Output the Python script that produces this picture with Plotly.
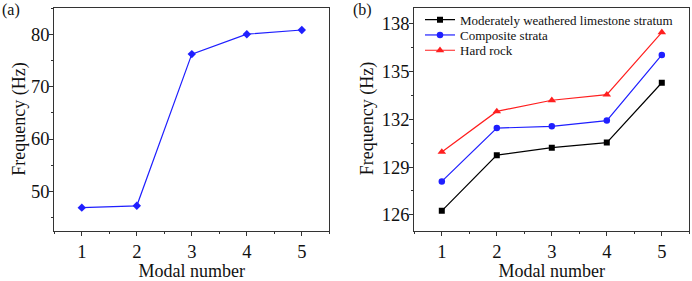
import plotly.graph_objects as go

modes = [1, 2, 3, 4, 5]
freq_a = [46.9, 47.25, 76.2, 80.0, 80.8]

series_names = ["Moderately weathered limestone stratum", "Composite strata", "Hard rock"]
freq_limestone = [126.25, 129.75, 130.22, 130.54, 134.3]
freq_composite = [128.1, 131.45, 131.56, 131.92, 136.05]
freq_hard = [129.95, 132.5, 133.2, 133.55, 137.47]

FONT = "Liberation Serif, Times New Roman, serif"
W, H = 692, 281

def px(x):
    return x / W

def py(y):
    return 1 - y / H

fig = go.Figure()

fig.add_trace(go.Scatter(
    x=modes, y=freq_a, mode="lines+markers", xaxis="x", yaxis="y",
    line=dict(color="#1f1fff", width=1.2),
    marker=dict(symbol="diamond", size=6.5, color="#1f1fff"),
    showlegend=False))

styles = [("#000000", "square", 6), ("#1f1fff", "circle", 6.5), ("#ff1f1f", "triangle-up", 7.5)]
legend_ids = ["legend", "legend2", "legend3"]
for name, vals, (c, sym, sz), lg in zip(series_names, [freq_limestone, freq_composite, freq_hard], styles, legend_ids):
    fig.add_trace(go.Scatter(
        x=modes, y=vals, mode="lines+markers", name=name, xaxis="x2", yaxis="y2", legend=lg,
        line=dict(color=c, width=1.2),
        marker=dict(symbol=sym, size=sz, color=c)))

axis_common = dict(
    showgrid=False, zeroline=False, showline=True, mirror=True, automargin=False,
    linecolor="#333333", linewidth=1.2, ticks="outside", ticklen=4, tickwidth=1,
    tickcolor="#333333", tickfont=dict(family=FONT, size=18.5, color="#111111"),
)
xaxis_common = dict(axis_common, range=[0.5, 5.5], tickvals=modes, ticktext=[str(m) for m in modes],
                    minor=dict(ticks="outside", ticklen=2.5, dtick=0.5, tick0=0.5, tickcolor="#333333"),
                    title=dict(text="Modal number", font=dict(family=FONT, size=18, color="#111111"), standoff=6))

legend_common = dict(xanchor="left", yanchor="middle", bgcolor="rgba(0,0,0,0)", borderwidth=0,
                     font=dict(family=FONT, size=13, color="#111111"))

fig.update_layout(
    width=W, height=H,
    margin=dict(l=0, r=0, t=0, b=0),
    paper_bgcolor="white", plot_bgcolor="white",
    xaxis=dict(xaxis_common, domain=[px(54.3), px(329.3)], anchor="y"),
    yaxis=dict(axis_common, domain=[py(230.7), py(8)], anchor="x", range=[42.5, 85],
               tickvals=[50, 60, 70, 80], ticklabelstandoff=-4,
               minor=dict(ticks="outside", ticklen=2.5, tickvals=[45, 55, 65, 75, 85], tickcolor="#333333")),
    xaxis2=dict(xaxis_common, domain=[px(414.3), px(689.3)], anchor="y2"),
    yaxis2=dict(axis_common, domain=[py(230.7), py(8)], anchor="x2", range=[125, 139],
                tickvals=[126, 129, 132, 135, 138], ticklabelstandoff=-4,
                minor=dict(ticks="outside", ticklen=2.5, tickvals=[127.5, 130.5, 133.5, 136.5], tickcolor="#333333")),
    legend=dict(legend_common, x=px(420), y=py(19.7)),
    legend2=dict(legend_common, x=px(420), y=py(35)),
    legend3=dict(legend_common, x=px(420), y=py(50.3)),
    annotations=[
        dict(text="Frequency (Hz)", x=px(19.5), y=py(119.3), xref="paper", yref="paper", textangle=-90,
             xanchor="center", yanchor="middle", showarrow=False,
             font=dict(family=FONT, size=18, color="#111111")),
        dict(text="Frequency (Hz)", x=px(367), y=py(119.3), xref="paper", yref="paper", textangle=-90,
             xanchor="center", yanchor="middle", showarrow=False,
             font=dict(family=FONT, size=18, color="#111111")),
        dict(text="(a)", x=px(0), y=py(10), xref="paper", yref="paper", xanchor="left", yanchor="middle",
             showarrow=False, font=dict(family=FONT, size=16, color="#111111")),
        dict(text="(b)", x=px(351), y=py(10), xref="paper", yref="paper", xanchor="left", yanchor="middle",
             showarrow=False, font=dict(family=FONT, size=16, color="#111111")),
    ],
)

fig.write_html("out.html", config=dict(displayModeBar=False),
               post_script="document.body.style.margin='0px';document.body.style.overflow='hidden';")
